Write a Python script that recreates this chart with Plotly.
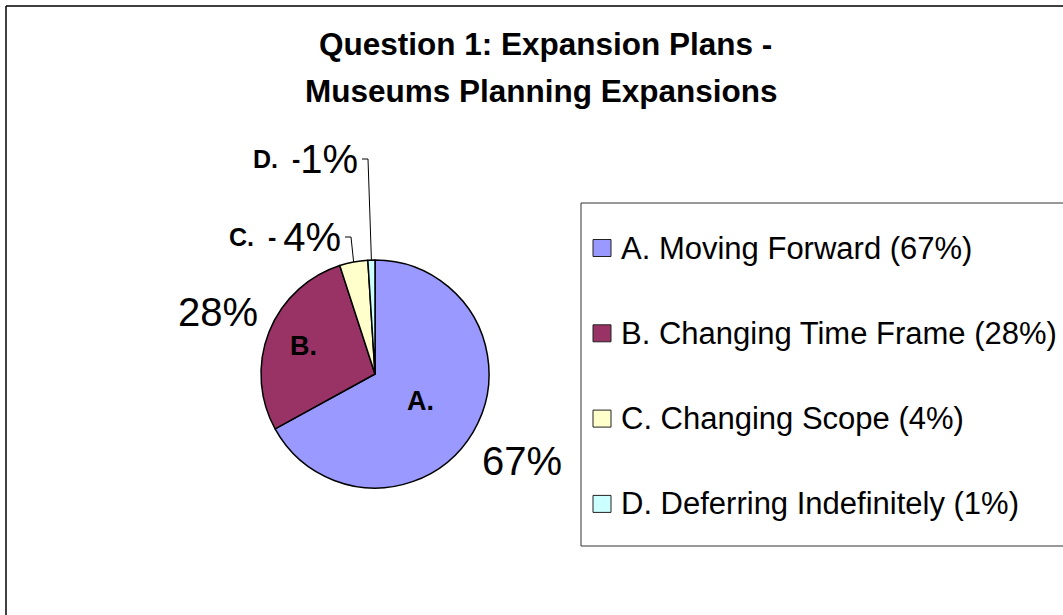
import math
import plotly.graph_objects as go

# ---- data ----
letters = ["A.", "B.", "C.", "D."]
categories = ["Moving Forward", "Changing Time Frame", "Changing Scope", "Deferring Indefinitely"]
values = [67, 28, 4, 1]
colors = ["#9999FF", "#993366", "#FFFFCC", "#CCFFFF"]
title_lines = ["Question 1: Expansion Plans -", "Museums Planning Expansions"]
callout_tail = {2: " ", 3: ""}

# ---- layout constants (pixels) ----
W, H = 1063, 615
CX, CY, R = 375, 374, 114
FONT = "Liberation Sans, Arial, sans-serif"


def px(x):
    return x / W


def py(y):
    return 1 - y / H


total = sum(values)
mids = []
cum = 0
for v in values:
    mids.append(2 * math.pi * (cum + v / 2) / total)
    cum += v


def polar(theta, dist):
    return CX + dist * math.sin(theta), CY - dist * math.cos(theta)


fig = go.Figure(go.Pie(
    labels=[f"{l} {c}" for l, c in zip(letters, categories)],
    values=values,
    sort=False,
    direction="clockwise",
    rotation=0,
    marker=dict(colors=colors, line=dict(color="black", width=1.5)),
    textinfo="none",
    hoverinfo="label+percent",
    showlegend=False,
    domain=dict(x=[px(CX - R), px(CX + R)], y=[py(CY + R), py(CY - R)]),
))

ann = []
shapes = []

# title
for line, (tx, ty) in zip(title_lines, [(545, 44), (541, 91)]):
    ann.append(dict(x=px(tx), y=py(ty), xref="paper", yref="paper", text=f"<b>{line}</b>",
                    showarrow=False, xanchor="center", yanchor="middle",
                    font=dict(family=FONT, size=31.5, color="black")))

# inside letter labels (A, B) and outside percent labels
inner_f = [0.46, 0.67]
outer_f = [1.50, 1.48]
for i in range(2):
    x, y = polar(mids[i], inner_f[i] * R)
    ann.append(dict(x=px(x), y=py(y), xref="paper", yref="paper", text=f"<b>{letters[i]}</b>",
                    showarrow=False, xanchor="center", yanchor="middle",
                    font=dict(family=FONT, size=27, color="black")))
    x, y = polar(mids[i], outer_f[i] * R)
    ann.append(dict(x=px(x), y=py(y), xref="paper", yref="paper", text=f"{values[i]}%",
                    showarrow=False, xanchor="center", yanchor="middle",
                    font=dict(family=FONT, size=40, color="black")))

# callout labels (C, D) with leader lines
elbows = {2: (351, 237), 3: (368, 159)}
for i, (ex, ey) in elbows.items():
    sx, sy = polar(mids[i], R)
    shapes.append(dict(type="path", xref="paper", yref="paper",
                       path=f"M {px(sx)} {py(sy)} L {px(ex)} {py(ey)} L {px(ex - 6)} {py(ey)}",
                       line=dict(color="black", width=1)))
    prefix = f"<b>{letters[i]}&nbsp;&nbsp;-{callout_tail[i]}</b>"
    ann.append(dict(x=px(ex - 8), y=py(ey), xref="paper", yref="paper",
                    text=f"<span style='font-size:25px;baseline-shift:5px'>{prefix}</span>{values[i]}%",
                    showarrow=False, xanchor="right", yanchor="middle",
                    font=dict(family=FONT, size=40, color="black")))

# outer chart frame
shapes.append(dict(type="line", xref="paper", yref="paper", x0=px(6), y0=py(6), x1=px(W + 10), y1=py(6),
                   line=dict(color="black", width=1.5)))
shapes.append(dict(type="line", xref="paper", yref="paper", x0=px(6), y0=py(6), x1=px(6), y1=py(H + 10),
                   line=dict(color="black", width=1.5)))

# legend box
LX0, LY0, LY1 = 581, 203, 546
for (x0, y0, x1, y1) in [(LX0, LY0, W + 10, LY0), (LX0, LY1, W + 10, LY1), (LX0, LY0, LX0, LY1)]:
    shapes.append(dict(type="line", xref="paper", yref="paper", x0=px(x0), y0=py(y0), x1=px(x1), y1=py(y1),
                       line=dict(color="#333333", width=1)))

item_y0, item_gap = 248, 85.3
for i in range(len(values)):
    yc = item_y0 + i * item_gap
    shapes.append(dict(type="rect", xref="paper", yref="paper",
                       x0=px(593), x1=px(611), y0=py(yc - 8.5), y1=py(yc + 8.5),
                       fillcolor=colors[i], line=dict(color="#222222", width=1)))
    ann.append(dict(x=px(619), y=py(yc), xref="paper", yref="paper",
                    text=f"{letters[i]} {categories[i]} ({values[i]}%)",
                    showarrow=False, xanchor="left", yanchor="middle",
                    font=dict(family=FONT, size=31, color="black")))

fig.update_layout(
    width=W, height=H,
    margin=dict(l=0, r=0, t=0, b=0),
    paper_bgcolor="white", plot_bgcolor="white",
    annotations=ann, shapes=shapes,
)

fig.write_html("out.html", config={"displayModeBar": False},
               post_script="document.body.style.margin='0';document.body.style.overflow='hidden';")
